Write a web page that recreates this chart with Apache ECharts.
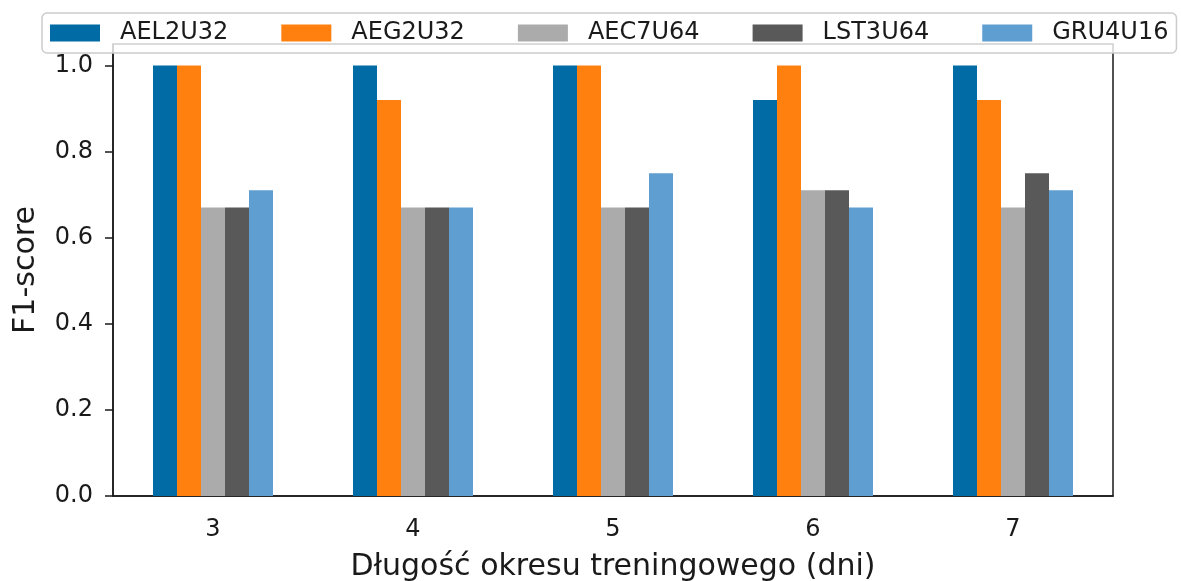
<!DOCTYPE html>
<html>
<head>
<meta charset="utf-8">
<script src="https://cdn.jsdelivr.net/npm/echarts@6/dist/echarts.min.js"></script>
<style>
  html, body { margin: 0; padding: 0; background: #fff; }
  #chart { width: 1181px; height: 581px; }
</style>
</head>
<body>
<div id="chart"></div>
<script>
const days = ['3', '4', '5', '6', '7'];
const modelNames = ['AEL2U32', 'AEG2U32', 'AEC7U64', 'LST3U64', 'GRU4U16'];
const ael2u32 = [1.0, 1.0, 1.0, 0.92, 1.0];
const aeg2u32 = [1.0, 0.92, 1.0, 1.0, 0.92];
const aec7u64 = [0.67, 0.67, 0.67, 0.71, 0.67];
const lst3u64 = [0.67, 0.67, 0.67, 0.71, 0.75];
const gru4u16 = [0.71, 0.67, 0.75, 0.67, 0.71];
const yTicks = [0, 0.2, 0.4, 0.6, 0.8, 1.0];

const colors = ['#006BA4', '#FF800E', '#ABABAB', '#595959', '#5F9ED1'];
const seriesData = [ael2u32, aeg2u32, aec7u64, lst3u64, gru4u16];
const ink = '#1a1a1a';
const font = 'DejaVu Sans';

const chart = echarts.init(document.getElementById('chart'));
chart.setOption({
  animation: false,
  textStyle: { fontFamily: font },
  legend: {
    data: modelNames,
    left: 42, top: 13, width: 1180,
    padding: [8, 8, 8, 8],
    itemWidth: 50, itemHeight: 17, itemGap: 53,
    icon: 'rect',
    backgroundColor: 'rgba(255,255,255,0.8)',
    borderColor: '#cccccc', borderWidth: 1.5, borderRadius: 5,
    textStyle: { fontSize: 24, color: ink, fontFamily: font, width: 112, padding: [0, 0, 0, 15] }
  },
  grid: {
    left: 113, right: 68, top: 44, bottom: 85,
    containLabel: false, outerBoundsMode: 'none',
    show: true, borderColor: ink, borderWidth: 1.5
  },
  xAxis: {
    type: 'category',
    data: days,
    name: 'Długość okresu treningowego (dni)',
    nameLocation: 'middle', nameGap: 56,
    nameTextStyle: { fontSize: 30, color: ink, fontFamily: font },
    axisLine: { lineStyle: { color: ink, width: 1.5 } },
    axisTick: { alignWithLabel: true, length: 8, lineStyle: { color: ink, width: 1.5 } },
    axisLabel: { fontSize: 24, color: ink, margin: 22, fontFamily: font }
  },
  yAxis: {
    type: 'value',
    min: 0, max: 1.05,
    name: 'F1-score',
    nameLocation: 'middle', nameGap: 72,
    nameTextStyle: { fontSize: 30, color: ink, fontFamily: font },
    splitLine: { show: false },
    axisLine: { show: true, lineStyle: { color: ink, width: 1.5 } },
    axisTick: { show: true, length: 8, lineStyle: { color: ink, width: 1.5 }, customValues: yTicks },
    axisLabel: { fontSize: 24, color: ink, margin: 20, fontFamily: font, customValues: yTicks,
      formatter: v => v.toFixed(1) }
  },
  series: modelNames.map((name, i) => ({
    name: name,
    type: 'bar',
    data: seriesData[i],
    barWidth: 24,
    barGap: '0%',
    itemStyle: { color: colors[i] }
  }))
});
</script>
</body>
</html>
